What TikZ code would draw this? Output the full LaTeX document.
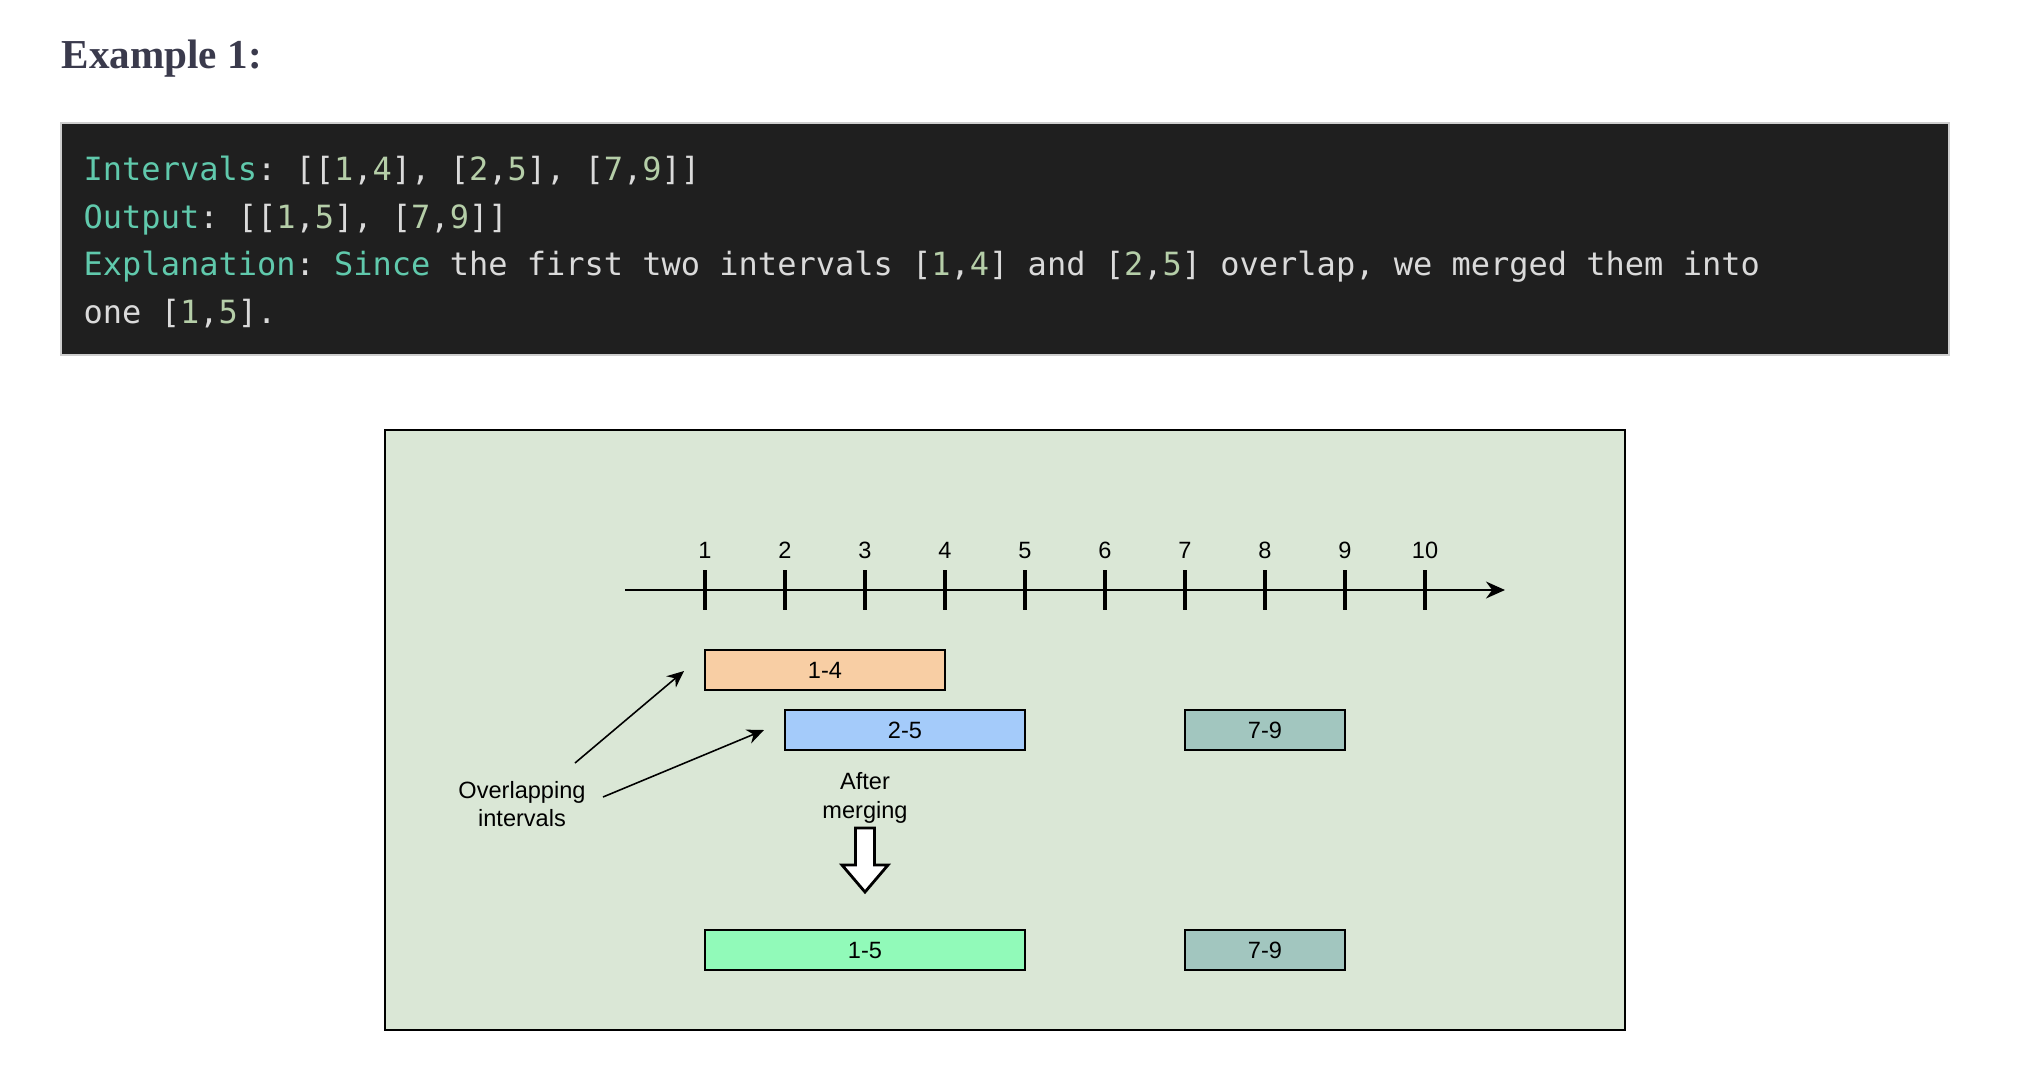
\documentclass[tikz,border=0pt]{standalone}
\usepackage{fontspec}
\setmainfont{Liberation Sans}
\setmonofont{DejaVu Sans Mono}
\newfontfamily\headfont{Liberation Serif}
\usetikzlibrary{arrows.meta,calc,positioning}

\definecolor{codebg}{RGB}{31,31,31}
\definecolor{codeframe}{RGB}{206,206,206}
\definecolor{codekeycol}{RGB}{96,201,172}
\definecolor{codenumcol}{RGB}{181,206,168}
\definecolor{codetxt}{RGB}{218,218,218}
\definecolor{headcol}{RGB}{58,58,76}
\definecolor{panelbg}{RGB}{218,231,214}
\definecolor{peach}{RGB}{248,206,164}
\definecolor{skyblue}{RGB}{164,203,250}
\definecolor{sage}{RGB}{162,198,191}
\definecolor{mint}{RGB}{145,250,185}

\newcommand{\codekey}[1]{\textcolor{codekeycol}{#1}}
\newcommand{\codenum}[1]{\textcolor{codenumcol}{#1}}

\tikzset{
  heading/.style   = {anchor=base west, inner sep=0pt, text=headcol,
                      font=\headfont\bfseries\fontsize{11.7}{13}\selectfont},
  codeline/.style  = {anchor=base west, inner sep=0pt, text=codetxt,
                      font=\ttfamily\fontsize{9.1}{11}\selectfont},
  diagtext/.style  = {font=\fontsize{6.7}{8.2}\selectfont, inner sep=0pt},
  ticklabel/.style = {diagtext, anchor=base},
  interval/.style  = {draw, line width=0.6pt, diagtext, minimum height=0.4cm},
  axis line/.style = {-{Stealth[length=5.4pt,width=4.8pt]}, line width=0.6pt},
  tick/.style      = {line width=1pt},
  pointer/.style   = {-{Stealth[length=4.8pt,width=4.2pt]}, line width=0.45pt},
  hollow/.style    = {draw, fill=white, line width=0.8pt, line join=miter},
}

\begin{document}
\begin{tikzpicture}[x=0.01cm,y=-0.01cm]
  \fill[white] (0,0) rectangle (2026,1066);

  % heading and code block
  \node[heading] (title) at (61,68) {Example 1:};
  \draw[codeframe, fill=codebg, line width=0.6pt] (61,123) rectangle (1949,355);
  \node[codeline] (code1) at (83,180)
    {\codekey{Intervals}: [[\codenum{1},\codenum{4}], [\codenum{2},\codenum{5}], [\codenum{7},\codenum{9}]]};
  \node[codeline] (code2) at (83,228)
    {\codekey{Output}: [[\codenum{1},\codenum{5}], [\codenum{7},\codenum{9}]]};
  \node[codeline] (code3) at (83,275)
    {\codekey{Explanation}: \codekey{Since} the first two intervals [\codenum{1},\codenum{4}] and [\codenum{2},\codenum{5}] overlap, we merged them into};
  \node[codeline] (code4) at (83,323) {one [\codenum{1},\codenum{5}].};

  % diagram panel
  \draw[fill=panelbg, line width=0.65pt] (385,430) rectangle (1625,1030);

  \coordinate (axstart) at (625,590);
  \coordinate (axend)   at (1505,590);
  \draw[axis line] (axstart) -- (axend);
  \foreach \i in {1,...,10} {
    \coordinate (t\i) at ({705+80*(\i-1)},590);
    \draw[tick] ($(t\i)+(0,-20)$) -- ($(t\i)+(0,20)$);
    \node[ticklabel] (l\i) at ($(t\i)+(0,-32)$) {\i};
  }

  \node[interval, fill=peach,   minimum width=2.4cm] (iv14)  at (825,670) {1-4};
  \node[interval, fill=skyblue, minimum width=2.4cm] (iv25)  at (905,730) {2-5};
  \node[interval, fill=sage,    minimum width=1.6cm] (iv79)  at (1265,730) {7-9};
  \node[interval, fill=mint,    minimum width=3.2cm] (iv15)  at (865,950) {1-5};
  \node[interval, fill=sage,    minimum width=1.6cm] (iv79b) at (1265,950) {7-9};

  \node[diagtext, align=center] (overlap) at (522,804) {Overlapping\\intervals};
  \coordinate (p1s) at (575,763);
  \coordinate (p1e) at (684,671);
  \coordinate (p2s) at (603,797);
  \coordinate (p2e) at (764,730);
  \draw[pointer] (p1s) -- (p1e);
  \draw[pointer] (p2s) -- (p2e);

  \node[diagtext, align=center] (after) at (865,798) {After\\merging};
  \coordinate (mtop) at (865,828);
  \draw[hollow] (mtop) ++(-9.5,0) -- ++(19,0) -- ++(0,37) -- ++(13.5,0)
    -- ++(-23,27) -- ++(-23,-27) -- ++(13.5,0) -- cycle;
\end{tikzpicture}
\end{document}
